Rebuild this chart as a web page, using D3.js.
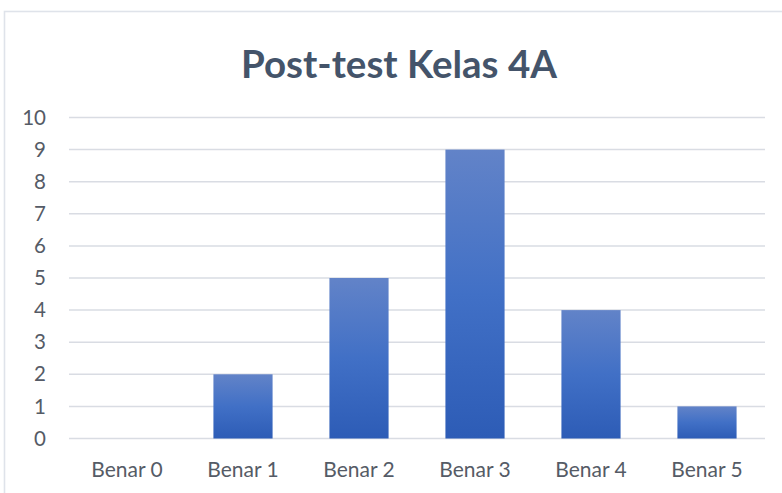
<!DOCTYPE html>
<html>
<head>
<meta charset="utf-8">
<script src="https://cdn.jsdelivr.net/npm/d3@7"></script>
<style>
  body { margin: 0; background: #fff; }
  svg { display: block; font-family: Lato, "Open Sans", "Noto Sans", sans-serif; }
</style>
</head>
<body>
<svg id="chart"></svg>
<script>
// data
let categories = ["Benar 0", "Benar 1", "Benar 2", "Benar 3", "Benar 4", "Benar 5"];
let counts = [0, 2, 5, 9, 4, 1];
let yTicks = [0, 1, 2, 3, 4, 5, 6, 7, 8, 9, 10];
let title = "Post-test Kelas 4A";

let width = 782;
let height = 493;
let margin = {left: 69, right: 17, top: 117.5, bottom: 54.5};

let svg = d3.select("#chart")
  .attr("width", width)
  .attr("height", height);

// chart frame (only left and top edges show in the crop)
svg.append("rect")
  .attr("x", 4.5).attr("y", 11.5)
  .attr("width", 800).attr("height", 500)
  .attr("fill", "none")
  .attr("stroke", "#dfe3ea")
  .attr("stroke-width", 1.6);

// per-bar vertical gradient
let defs = svg.append("defs");
let grad = defs.append("linearGradient")
  .attr("id", "barGrad")
  .attr("x1", 0).attr("y1", 0).attr("x2", 0).attr("y2", 1);
grad.append("stop").attr("offset", "0%").attr("stop-color", "#6283c8");
grad.append("stop").attr("offset", "50%").attr("stop-color", "#4170c6");
grad.append("stop").attr("offset", "100%").attr("stop-color", "#2d5cb6");

let x = d3.scaleBand()
  .domain(categories)
  .range([margin.left, width - margin.right])
  .paddingInner(0.49)
  .paddingOuter(0.245);

let y = d3.scaleLinear()
  .domain([0, 10])
  .range([height - margin.bottom, margin.top]);

// title
svg.append("text")
  .attr("x", 399)
  .attr("y", 78)
  .attr("text-anchor", "middle")
  .attr("font-size", 38.5)
  .attr("font-weight", "bold")
  .attr("fill", "#44546a")
  .text(title);

// gridlines
svg.append("g")
  .selectAll("line")
  .data(yTicks)
  .enter().append("line")
  .attr("x1", margin.left)
  .attr("x2", width - margin.right)
  .attr("y1", d => y(d))
  .attr("y2", d => y(d))
  .attr("stroke", "#d9dce3")
  .attr("stroke-width", 1.5);

// y labels
svg.append("g")
  .selectAll("text")
  .data(yTicks)
  .enter().append("text")
  .attr("x", 46)
  .attr("y", d => y(d))
  .attr("dy", "0.35em")
  .attr("text-anchor", "end")
  .attr("font-size", 20.5)
  .attr("fill", "#555b66")
  .text(d => d);

// bars
svg.append("g")
  .selectAll("rect")
  .data(counts)
  .enter().append("rect")
  .attr("x", (d, i) => x(categories[i]))
  .attr("width", x.bandwidth())
  .attr("y", d => y(d))
  .attr("height", d => y(0) - y(d))
  .attr("fill", "url(#barGrad)");

// x labels
svg.append("g")
  .selectAll("text")
  .data(categories)
  .enter().append("text")
  .attr("x", d => x(d) + x.bandwidth() / 2)
  .attr("y", 470)
  .attr("dy", "0.35em")
  .attr("text-anchor", "middle")
  .attr("font-size", 21)
  .attr("fill", "#555b66")
  .text(d => d);
</script>
</body>
</html>
